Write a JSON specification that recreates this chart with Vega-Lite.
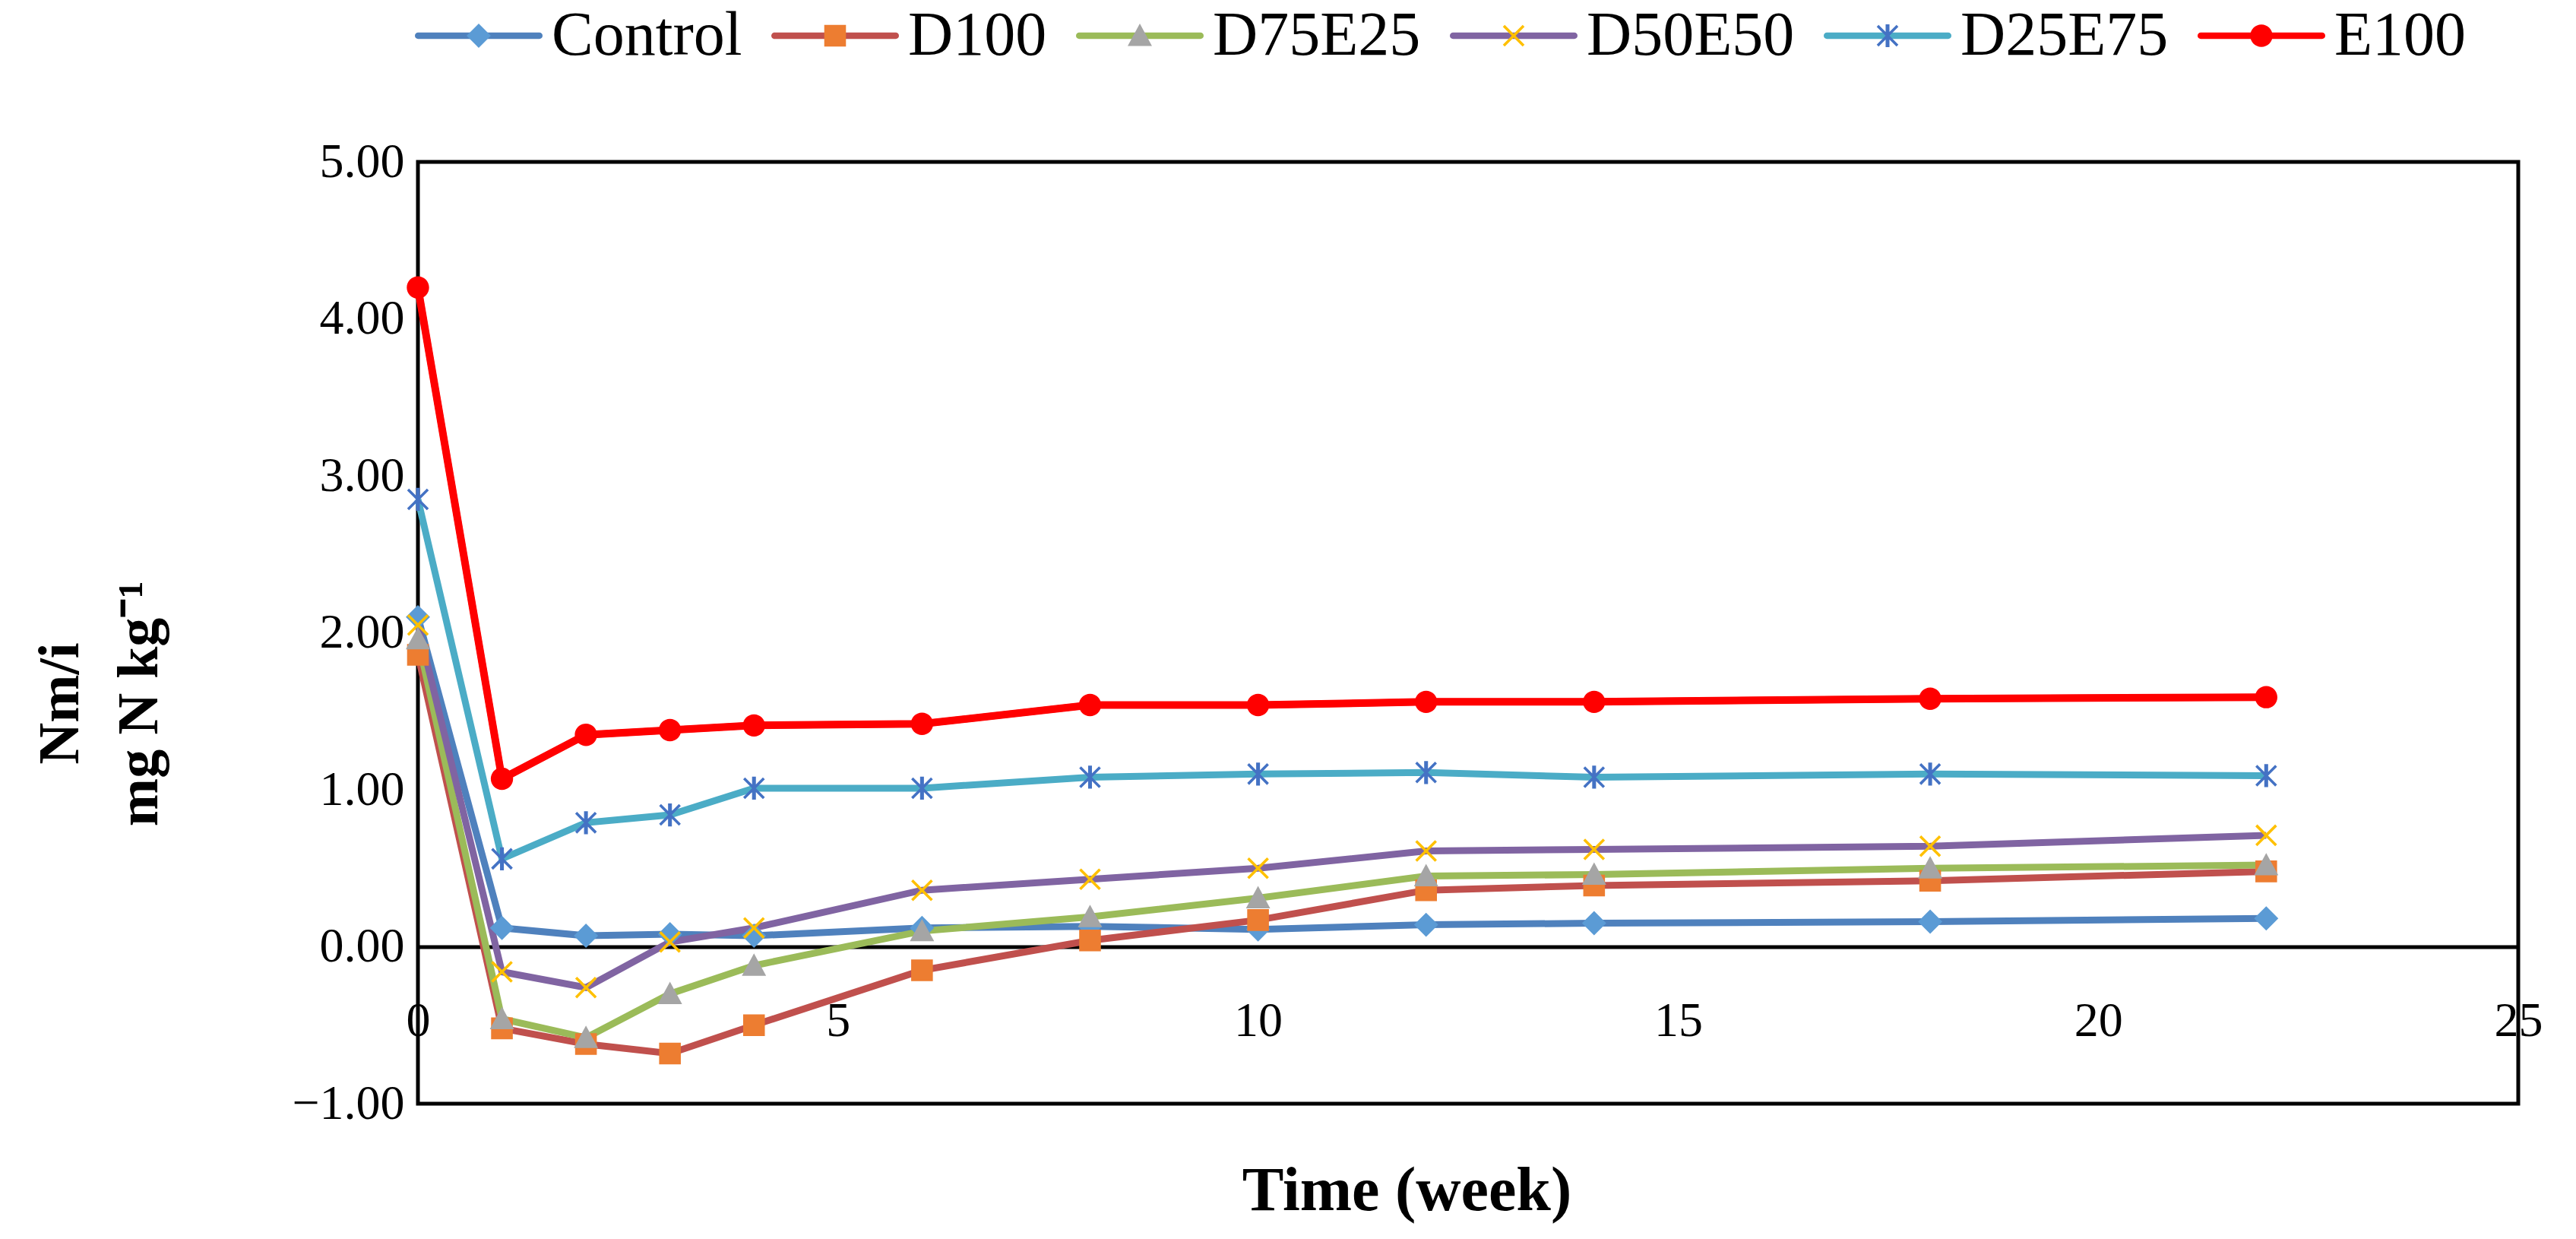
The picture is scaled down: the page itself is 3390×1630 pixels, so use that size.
{
  "$schema": "https://vega.github.io/schema/vega-lite/v6.json",
  "width": 2764,
  "height": 1239,
  "autosize": {"type": "none"},
  "padding": {"left": 550, "top": 213, "right": 76, "bottom": 178},
  "background": "white",
  "config": {"view": {"stroke": "black", "strokeWidth": 5}, "font": "Liberation Serif"},
  "data": {"values": [
    {"series": "Control", "week": 0, "v": 2.10}, {"series": "Control", "week": 1, "v": 0.12}, {"series": "Control", "week": 2, "v": 0.07}, {"series": "Control", "week": 3, "v": 0.08}, {"series": "Control", "week": 4, "v": 0.07}, {"series": "Control", "week": 6, "v": 0.12}, {"series": "Control", "week": 8, "v": 0.13}, {"series": "Control", "week": 10, "v": 0.11}, {"series": "Control", "week": 12, "v": 0.14}, {"series": "Control", "week": 14, "v": 0.15}, {"series": "Control", "week": 18, "v": 0.16}, {"series": "Control", "week": 22, "v": 0.18},
    {"series": "D100", "week": 0, "v": 1.86}, {"series": "D100", "week": 1, "v": -0.52}, {"series": "D100", "week": 2, "v": -0.62}, {"series": "D100", "week": 3, "v": -0.68}, {"series": "D100", "week": 4, "v": -0.50}, {"series": "D100", "week": 6, "v": -0.15}, {"series": "D100", "week": 8, "v": 0.04}, {"series": "D100", "week": 10, "v": 0.17}, {"series": "D100", "week": 12, "v": 0.36}, {"series": "D100", "week": 14, "v": 0.39}, {"series": "D100", "week": 18, "v": 0.42}, {"series": "D100", "week": 22, "v": 0.48},
    {"series": "D75E25", "week": 0, "v": 1.96}, {"series": "D75E25", "week": 1, "v": -0.46}, {"series": "D75E25", "week": 2, "v": -0.58}, {"series": "D75E25", "week": 3, "v": -0.30}, {"series": "D75E25", "week": 4, "v": -0.12}, {"series": "D75E25", "week": 6, "v": 0.10}, {"series": "D75E25", "week": 8, "v": 0.19}, {"series": "D75E25", "week": 10, "v": 0.31}, {"series": "D75E25", "week": 12, "v": 0.45}, {"series": "D75E25", "week": 14, "v": 0.46}, {"series": "D75E25", "week": 18, "v": 0.50}, {"series": "D75E25", "week": 22, "v": 0.52},
    {"series": "D50E50", "week": 0, "v": 2.05}, {"series": "D50E50", "week": 1, "v": -0.16}, {"series": "D50E50", "week": 2, "v": -0.26}, {"series": "D50E50", "week": 3, "v": 0.03}, {"series": "D50E50", "week": 4, "v": 0.12}, {"series": "D50E50", "week": 6, "v": 0.36}, {"series": "D50E50", "week": 8, "v": 0.43}, {"series": "D50E50", "week": 10, "v": 0.50}, {"series": "D50E50", "week": 12, "v": 0.61}, {"series": "D50E50", "week": 14, "v": 0.62}, {"series": "D50E50", "week": 18, "v": 0.64}, {"series": "D50E50", "week": 22, "v": 0.71},
    {"series": "D25E75", "week": 0, "v": 2.85}, {"series": "D25E75", "week": 1, "v": 0.56}, {"series": "D25E75", "week": 2, "v": 0.79}, {"series": "D25E75", "week": 3, "v": 0.84}, {"series": "D25E75", "week": 4, "v": 1.01}, {"series": "D25E75", "week": 6, "v": 1.01}, {"series": "D25E75", "week": 8, "v": 1.08}, {"series": "D25E75", "week": 10, "v": 1.10}, {"series": "D25E75", "week": 12, "v": 1.11}, {"series": "D25E75", "week": 14, "v": 1.08}, {"series": "D25E75", "week": 18, "v": 1.10}, {"series": "D25E75", "week": 22, "v": 1.09},
    {"series": "E100", "week": 0, "v": 4.20}, {"series": "E100", "week": 1, "v": 1.07}, {"series": "E100", "week": 2, "v": 1.35}, {"series": "E100", "week": 3, "v": 1.38}, {"series": "E100", "week": 4, "v": 1.41}, {"series": "E100", "week": 6, "v": 1.42}, {"series": "E100", "week": 8, "v": 1.54}, {"series": "E100", "week": 10, "v": 1.54}, {"series": "E100", "week": 12, "v": 1.56}, {"series": "E100", "week": 14, "v": 1.56}, {"series": "E100", "week": 18, "v": 1.58}, {"series": "E100", "week": 22, "v": 1.59}
  ]},
  "encoding": {
    "x": {
      "field": "week", "type": "quantitative",
      "scale": {"domain": [0, 25], "nice": false, "zero": false},
      "axis": {
        "title": "Time (week)", "titleFont": "Liberation Serif", "titleFontSize": 82, "titleFontWeight": "bold", "titleColor": "black",
        "titleX": 1301, "titleY": 346, "titleAlign": "center", "titleBaseline": "alphabetic",
        "values": [0, 5, 10, 15, 20, 25], "offset": -206.5,
        "labelFont": "Liberation Serif", "labelFontSize": 64, "labelColor": "black", "labelPadding": 66, "labelFlush": false,
        "ticks": false, "grid": false, "domainColor": "black", "domainWidth": 5
      }
    },
    "y": {
      "field": "v", "type": "quantitative",
      "scale": {"domain": [-1, 5], "nice": false, "zero": false},
      "axis": {
        "title": ["Nm/i", "mg N kg⁻¹"], "titleFont": "Liberation Serif", "titleFontSize": 76, "titleFontWeight": "bold", "titleColor": "black",
        "titleAngle": -90, "titleX": -448, "titleY": 712, "titleAlign": "center", "titleBaseline": "alphabetic", "titleLineHeight": 104,
        "values": [-1, 0, 1, 2, 3, 4, 5], "format": ".2f",
        "labelFont": "Liberation Serif", "labelFontSize": 64, "labelColor": "black", "labelPadding": 18, "labelFlush": false,
        "ticks": false, "grid": false, "domain": false
      }
    }
  },
  "layer": [
    {
      "mark": {"type": "line", "strokeWidth": 9},
      "encoding": {
        "stroke": {
          "field": "series", "type": "nominal",
          "sort": ["Control", "D100", "D75E25", "D50E50", "D25E75", "E100"],
          "scale": {"range": ["#4F81BD", "#C0504D", "#9BBB59", "#8064A2", "#4BACC6", "#FF0000"]},
          "legend": {
            "orient": "none", "legendX": -4, "legendY": -250, "direction": "horizontal", "title": null,
            "symbolType": "M-0.95,-0.05H0.95A0.05,0.05,0,0,1,0.95,0.05H-0.95A0.05,0.05,0,0,1,-0.95,-0.05Z", "symbolSize": 28224, "symbolStrokeWidth": 0,
            "labelFont": "Liberation Serif", "labelFontSize": 82, "labelOpacity": 0, "labelOffset": 12, "labelLimit": 0,
            "columnPadding": 38, "padding": 0,
            "encode": {"symbols": {"update": {"fill": {"scale": "stroke", "field": "value"}, "strokeWidth": {"value": 0}}}}
          }
        }
      }
    },
    {
      "transform": [{"filter": "datum.series === 'E100'"}],
      "mark": {"type": "line", "strokeWidth": 10, "stroke": "#FF0000"},
      "encoding": {}
    },
    {
      "mark": {"type": "point", "filled": true, "size": 28224, "opacity": 1, "strokeWidth": 0},
      "encoding": {
        "fill": {
          "field": "series", "type": "nominal",
          "scale": {"domain": ["Control", "D100", "D75E25", "D50E50", "D25E75", "E100"], "range": ["#5B9BD5", "#ED7D31", "#A5A5A5", "#FFC000", "#4472C4", "#FF0000"]},
          "legend": {
            "orient": "none", "legendX": -4, "legendY": -250, "direction": "horizontal", "title": null,
            "symbolSize": 28224, "symbolStrokeWidth": 0, "symbolOpacity": 1,
            "labelFont": "Liberation Serif", "labelFontSize": 82, "labelColor": "black", "labelOffset": 12, "labelLimit": 0,
            "columnPadding": 38, "padding": 0
          }
        },
        "shape": {
          "field": "series", "type": "nominal",
          "scale": {
            "domain": ["Control", "D100", "D75E25", "D50E50", "D25E75", "E100"],
            "range": [
              "M-1,0L1,0M0,-0.19L0.19,0L0,0.19L-0.19,0Z",
              "M-1,0L1,0M-0.17,-0.17H0.17V0.17H-0.17Z",
              "M-1,0L1,0M0,-0.19L0.19,0.16L-0.19,0.16Z",
              "M-1,0L1,0M-0.17,-0.14L-0.14,-0.17L0,-0.03L0.14,-0.17L0.17,-0.14L0.03,0L0.17,0.14L0.14,0.17L0,0.03L-0.14,0.17L-0.17,0.14L-0.03,0Z",
              "M-1,0L1,0M-0.17,-0.14L-0.14,-0.17L0,-0.03L0.14,-0.17L0.17,-0.14L0.03,0L0.17,0.14L0.14,0.17L0,0.03L-0.14,0.17L-0.17,0.14L-0.03,0ZM-0.03,-0.18H0.03V0.18H-0.03Z",
              "M-1,0L1,0M-0.175,0A0.175,0.175,0,1,1,0.175,0A0.175,0.175,0,1,1,-0.175,0Z"
            ]
          },
          "legend": {
            "orient": "none", "legendX": -4, "legendY": -250, "direction": "horizontal", "title": null,
            "symbolSize": 28224, "symbolStrokeWidth": 0, "symbolOpacity": 1,
            "labelFont": "Liberation Serif", "labelFontSize": 82, "labelColor": "black", "labelOffset": 12, "labelLimit": 0,
            "columnPadding": 38, "padding": 0
          }
        }
      }
    }
  ]
}
